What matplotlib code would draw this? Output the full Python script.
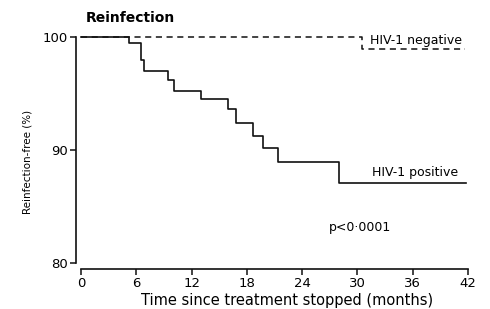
import matplotlib
matplotlib.use("Agg")
import matplotlib.pyplot as plt

# Kaplan-Meier step data (months, % reinfection-free)
pos_months = [0, 5.2, 6.5, 6.8, 9.4, 10.1, 13.0, 15.9, 16.8, 18.7, 19.7, 21.4, 28.0, 41.8]
pos_free = [100, 99.4, 97.9, 97.0, 96.2, 95.2, 94.5, 93.6, 92.4, 91.2, 90.2, 88.9, 87.1, 87.1]
neg_months = [0, 30.5, 41.7]
neg_free = [100, 98.9, 98.9]

x_ticks = [0, 6, 12, 18, 24, 30, 36, 42]
y_ticks = [80, 90, 100]

plt.rcParams["font.family"] = ["DejaVu Sans"]

fig = plt.figure(figsize=(4.9, 3.09), dpi=100)
ax = fig.add_axes([81 / 490, 46 / 309, 387 / 490, 226.3 / 309])

ax.step(neg_months, neg_free, where="post", color="#111111", lw=1.1,
        linestyle=(0, (4, 3)), clip_on=False, zorder=2)
ax.step(pos_months, pos_free, where="post", color="#111111", lw=1.2,
        clip_on=False, zorder=3)

ax.set_xlim(0, 42)
ax.set_ylim(80, 100)
ax.set_xticks(x_ticks)
ax.set_yticks(y_ticks)

for side in ("top", "right"):
    ax.spines[side].set_visible(False)
ax.spines["left"].set_position(("outward", 3.6))
ax.spines["bottom"].set_position(("outward", 4.3))
for side in ("left", "bottom"):
    ax.spines[side].set_linewidth(1.2)
    ax.spines[side].set_color("#111111")
ax.tick_params(axis="both", direction="out", length=4, width=1.1,
               color="#111111", labelsize=9.5, pad=2)

ax.text(31.4, 99.7, "HIV-1 negative", fontsize=9, va="center", ha="left")
ax.text(31.6, 88.0, "HIV-1 positive", fontsize=9, va="center", ha="left")
ax.text(30.3, 83.1, "p<0\u00b70001", fontsize=9, va="center", ha="center")

fig.text(86 / 490, 1 - 18 / 309, "Reinfection", fontsize=10, fontweight="bold",
         va="center", ha="left")
fig.text(28 / 490, 1 - 162 / 309, "Reinfection-free (%)", fontsize=7.5,
         rotation=90, va="center", ha="center")
fig.text(287 / 490, 1 - 301 / 309, "Time since treatment stopped (months)",
         fontsize=10.5, va="center", ha="center")

fig.savefig("out.png", dpi=100)
